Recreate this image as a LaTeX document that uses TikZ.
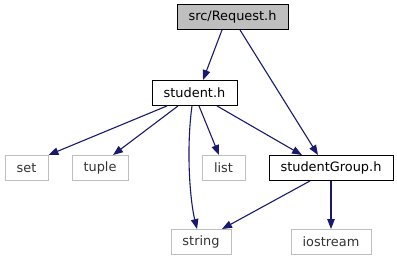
\documentclass[tikz,border=0pt]{standalone}
\usepackage{fontspec}
\setmainfont{DejaVu Sans}
\usepackage{tikz}
\usetikzlibrary{arrows.meta}

\definecolor{edgeblue}{HTML}{191970}
\definecolor{boxgray}{HTML}{BFBFBF}

\begin{document}
\begin{tikzpicture}[x=1pt, y=-1pt,
		font=\fontsize{12.9}{14}\selectfont,
		file/.style={draw=black, line width=0.9pt, minimum height=25pt, inner sep=0pt},
		sys/.style={draw=boxgray, line width=0.9pt, minimum height=25pt, inner sep=0pt, text=black!80},
		edge/.style={draw=edgeblue, line width=1.1pt, -{Triangle[length=10pt, width=7.5pt]}}]
		\useasboundingbox (0, 0) rectangle (397, 261);

		\node[file, fill=boxgray, minimum width=111pt] at (232.5, 17) (req) {src/Request.h};
		\node[file, minimum width=85pt] at (194.5, 93) (stu) {student.h};

		\node[sys, minimum width=43pt] at (26.5, 168) (set) {set};
		\node[sys, minimum width=56pt] at (100, 168) (tup) {tuple};
		\node[sys, minimum width=43pt] at (223.5, 168) (lst) {list};
		\node[file, minimum width=124pt] at (331, 168) (grp) {studentGroup.h};

		\node[sys, minimum width=60pt] at (201, 242) (str) {string};
		\node[sys, minimum width=80pt] at (331, 242) (ios) {iostream};

		\draw[edge] ([xshift=-10.5pt]req.south) -- ([xshift=8.5pt]stu.north);
		\draw[edge] ([xshift=7.5pt]req.south) -- ([xshift=-13pt]grp.north);

		\draw[edge] ([xshift=-27.5pt]stu.south) -- (set.north east);
		\draw[edge] ([xshift=-16.5pt]stu.south) -- ([xshift=13pt]tup.north);
		\draw[edge] ([xshift=-2.5pt]stu.south) .. controls (186, 150) and (190, 200) .. ([xshift=-4pt]str.north);
		\draw[edge] ([xshift=4.5pt]stu.south) -- ([xshift=-4.5pt]lst.north);
		\draw[edge] ([xshift=22.5pt]stu.south) -- ([xshift=-29pt]grp.north);

		\draw[edge] ([xshift=-21pt]grp.south) -- ([xshift=21pt]str.north);
		\draw[edge] (grp.south) -- (ios.north);
	\end{tikzpicture}
\end{document}
